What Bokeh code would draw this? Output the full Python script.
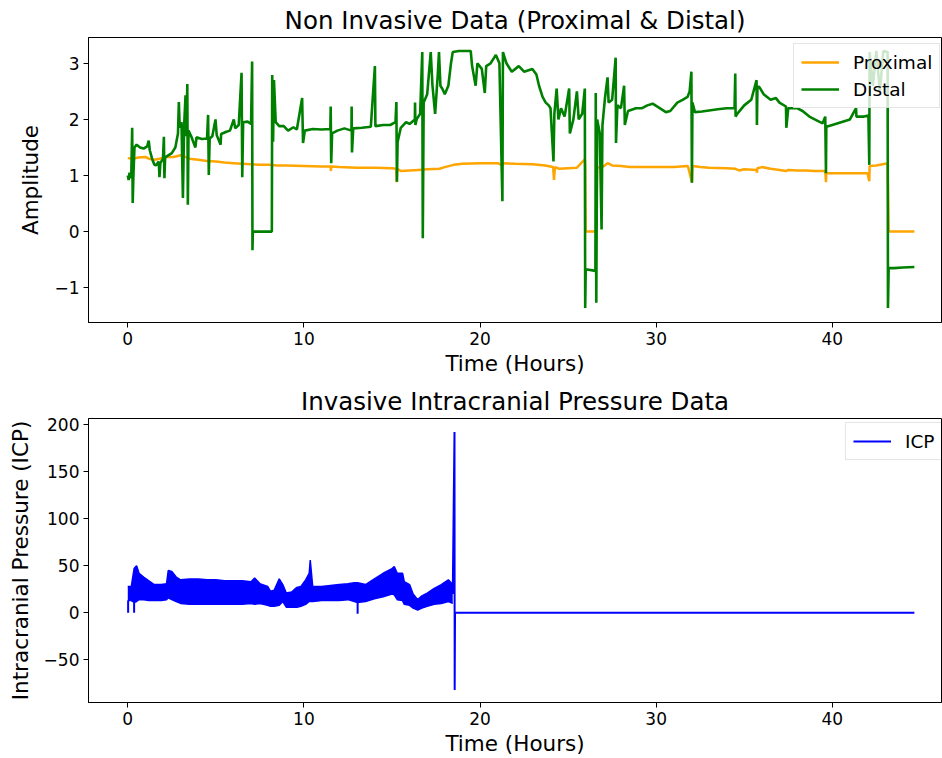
from bokeh.plotting import figure
from bokeh.layouts import column
from bokeh.models import Range1d, FixedTicker, Legend, LegendItem
from bokeh.embed import file_html
from bokeh.resources import INLINE

# ---------------- data ----------------
proximal_t = [0.0, 0.3, 0.6, 1.0, 1.2, 1.5, 1.8, 2.2, 2.6, 3.0, 3.2, 3.5, 4.0, 4.5, 5.0, 5.5,
              6.0, 6.5, 7.0, 7.5, 8.0, 8.5, 9.0, 10.0, 11.0, 11.52, 11.53, 11.55, 12.0, 13.0,
              14.0, 15.0, 15.25, 15.27, 15.3, 15.5, 16.0, 16.5, 17.0, 17.7, 18.0, 18.5, 19.0,
              20.0, 21.0, 21.27, 21.3, 22.0, 23.0, 23.7, 24.15, 24.2, 24.25, 24.5, 25.0, 25.5,
              25.95, 25.97, 26.0, 26.6, 26.65, 27.0, 27.24, 27.5, 28.0, 28.5, 29.0, 30.0, 31.0,
              31.8, 32.03, 32.06, 32.5, 33.0, 34.0, 34.5, 34.7, 35.0, 35.7, 35.72, 35.75, 36.0,
              36.5, 37.0, 37.37, 37.5, 38.0, 38.5, 39.0, 39.6, 39.64, 39.66, 40.0, 41.0, 41.5,
              42.0, 42.1, 42.12, 42.5, 43.0, 43.14, 43.2, 44.66]
proximal_y = [1.31, 1.30, 1.32, 1.33, 1.30, 1.28, 1.30, 1.33, 1.33, 1.36, 1.34, 1.30, 1.28, 1.26,
              1.25, 1.23, 1.22, 1.21, 1.20, 1.19, 1.19, 1.18, 1.18, 1.17, 1.16, 1.16, 1.08, 1.16,
              1.15, 1.14, 1.14, 1.13, 1.12, 0.88, 1.12, 1.08, 1.09, 1.10, 1.11, 1.12, 1.15, 1.19,
              1.21, 1.22, 1.22, 1.18, 1.22, 1.21, 1.20, 1.18, 1.15, 0.92, 1.15, 1.12, 1.13, 1.14,
              1.29, 1.14, 0.0, 0.0, 1.14, 1.16, 1.22, 1.18, 1.17, 1.15, 1.15, 1.15, 1.15, 1.17,
              0.88, 1.17, 1.15, 1.14, 1.13, 1.12, 1.09, 1.11, 1.10, 1.05, 1.13, 1.15, 1.12, 1.10,
              1.08, 1.10, 1.09, 1.09, 1.08, 1.08, 0.88, 1.04, 1.04, 1.04, 1.04, 1.04, 0.90, 1.17,
              1.18, 1.21, 1.21, 0.0, 0.0]

distal_t = [0.0, 0.05, 0.1, 0.15, 0.2, 0.25, 0.28, 0.32, 0.38, 0.5, 0.7, 0.9, 1.1, 1.19, 1.25,
            1.38, 1.5, 1.6, 1.76, 1.8, 1.85, 2.0, 2.05, 2.08, 2.12, 2.3, 2.5, 2.7, 2.85, 2.9,
            2.95, 3.05, 3.13, 3.2, 3.28, 3.32, 3.38, 3.41, 3.45, 3.6, 3.84, 3.9, 4.2, 4.5, 4.56,
            4.6, 4.65, 4.8, 4.98, 5.05, 5.27, 5.3, 5.6, 5.8, 6.02, 6.1, 6.3, 6.46, 6.5, 6.55,
            6.8, 7.0, 7.06, 7.08, 7.1, 8.18, 8.2, 8.25, 8.3, 8.4, 8.6, 8.86, 9.1, 9.4, 9.6, 9.9,
            9.95, 10.05, 10.5, 11.0, 11.5, 11.52, 11.55, 11.6, 11.9, 12.3, 12.7, 12.71, 12.73,
            12.8, 13.3, 13.8, 14.03, 14.06, 14.5, 14.9, 15.2, 15.25, 15.28, 15.32, 15.5, 15.8,
            16.0, 16.3, 16.31, 16.33, 16.4, 16.6, 16.72, 16.75, 16.8, 17.0, 17.2, 17.3, 17.45,
            17.6, 17.67, 17.75, 17.85, 18.0, 18.2, 18.35, 18.45, 18.8, 19.2, 19.47, 19.55, 19.75,
            19.85, 20.1, 20.27, 20.35, 20.6, 20.9, 21.1, 21.27, 21.3, 21.5, 21.8, 22.2, 22.5,
            22.97, 23.2, 23.35, 23.55, 23.73, 23.9, 24.0, 24.17, 24.22, 24.35, 24.45, 24.6,
            24.8, 25.06, 25.1, 25.3, 25.5, 25.6, 25.8, 25.95, 25.97, 26.0, 26.55, 26.57, 26.6,
            26.65, 26.8, 26.9, 26.95, 27.1, 27.24, 27.3, 27.5, 27.7, 27.72, 27.8, 28.0, 28.18,
            28.22, 28.4, 28.85, 29.2, 29.5, 29.8, 30.2, 30.55, 30.8, 31.2, 31.5, 31.78, 31.9,
            32.0, 32.03, 32.06, 32.2, 32.6, 33.0, 33.5, 34.0, 34.45, 34.49, 34.51, 34.6, 35.0,
            35.4, 35.7, 35.72, 35.75, 35.85, 36.1, 36.5, 36.8, 37.0, 37.37, 37.39, 37.5, 38.0,
            38.31, 38.7, 39.0, 39.45, 39.6, 39.64, 39.66, 40.0, 40.5, 41.0, 41.35, 41.37, 41.8,
            42.05, 42.1, 42.12, 42.3, 42.5, 42.7, 42.9, 43.14, 43.16, 43.2, 43.5, 44.0, 44.66]
distal_y = [1.00, 0.92, 1.05, 0.95, 1.02, 1.85, 0.51, 1.00, 1.50, 1.55, 1.50, 1.48, 1.52, 1.62,
            1.45, 1.30, 1.20, 1.18, 1.25, 0.97, 1.22, 1.30, 1.69, 0.95, 1.32, 1.36, 1.40, 1.50,
            1.75, 2.31, 1.85, 1.95, 0.60, 1.90, 2.43, 1.70, 2.63, 0.48, 1.80, 1.70, 1.50, 1.68,
            1.65, 1.66, 2.08, 1.01, 1.66, 1.70, 2.00, 1.72, 1.55, 1.74, 1.78, 1.80, 2.00, 1.84,
            1.90, 2.83, 0.97, 1.95, 1.96, 1.92, 3.03, -0.33, 0.0, 0.0, 2.79, 1.60, 2.70, 1.95,
            1.88, 1.88, 1.80, 1.86, 1.82, 2.38, 1.58, 1.80, 1.83, 1.82, 1.83, 2.23, 1.22, 1.75,
            1.80, 1.84, 1.80, 2.23, 1.41, 1.84, 1.85, 1.87, 2.95, 1.88, 1.90, 1.90, 1.95, 2.31,
            0.89, 1.60, 1.85, 1.95, 1.92, 2.00, 2.30, 1.90, 2.00, 2.10, 3.20, -0.12, 2.30, 2.45,
            3.20, 2.60, 2.10, 2.80, 3.20, 2.60, 2.55, 2.45, 2.60, 3.00, 3.20, 3.22, 3.22, 3.22,
            2.95, 2.60, 3.00, 2.90, 2.47, 2.95, 3.00, 3.15, 3.00, 0.54, 3.20, 3.00, 2.85, 2.95,
            2.85, 2.90, 2.80, 2.60, 2.40, 2.30, 2.25, 2.20, 1.25, 2.10, 2.55, 2.00, 2.20, 2.05,
            2.55, 1.75, 2.00, 2.50, 2.00, 2.10, 2.55, -1.36, -0.67, -0.70, 2.47, -1.27, 2.00,
            1.75, 0.04, 1.90, 2.40, 2.75, 2.30, 2.35, 3.10, 1.58, 2.25, 2.20, 2.60, 1.90, 2.15,
            2.20, 2.20, 2.25, 2.28, 2.20, 2.13, 2.15, 2.30, 2.35, 2.40, 2.50, 2.85, 0.87, 2.30,
            2.13, 2.14, 2.16, 2.18, 2.20, 2.20, 2.82, 2.05, 2.10, 2.25, 2.35, 2.70, 1.90, 2.58,
            2.58, 2.45, 2.35, 2.38, 2.30, 2.23, 1.85, 2.20, 2.20, 2.15, 2.05, 2.00, 1.93, 2.05,
            1.04, 1.87, 1.90, 1.95, 2.00, 2.20, 2.05, 2.05, 2.07, 1.19, 3.20, 2.60, 3.22, 2.50,
            3.22, 3.20, -1.36, -0.65, -0.65, -0.64, -0.63]

# ICP band envelope (upper / lower of the fast oscillation)
icp_t = [0.0, 0.2, 0.36, 0.5, 0.64, 0.9, 1.2, 1.5, 1.9, 2.2, 2.3, 2.5, 2.75, 3.0, 3.5, 4.0,
         4.5, 5.0, 5.5, 6.0, 6.5, 7.0, 7.2, 7.5, 7.94, 8.1, 8.31, 8.6, 8.8, 9.0, 9.3, 9.6,
         9.83, 10.1, 10.3, 10.36, 10.5, 11.0, 11.5, 12.0, 12.5, 12.86, 13.05, 13.5, 14.0,
         14.5, 15.0, 15.13, 15.3, 15.6, 15.7, 16.0, 16.2, 16.46, 16.7, 17.0, 17.4, 17.8,
         18.2, 18.45]
icp_hi = [28, 28, 47, 50, 42, 38, 34, 30, 30, 31, 45, 44, 38, 35, 36, 36, 35, 35, 34, 34, 34,
          33, 37, 31, 28, 23, 24, 36, 30, 21, 22, 27, 28, 35, 42, 56, 28, 28, 29, 30, 31, 32,
          32, 30, 36, 42, 47, 49, 42, 42, 33, 30, 20, 14, 18, 21, 26, 30, 35, 30]
icp_lo = [13, 13, 11, 12, 14, 14, 13, 13, 13, 14, 16, 14, 12, 10, 9, 9, 9, 9, 9, 9, 9, 10, 9,
          10, 8, 7, 7, 8, 12, 6, 6, 6, 7, 9, 12, 12, 12, 13, 13, 13, 14, 12, 11, 12, 15, 17,
          20, 19, 14, 13, 9, 8, 5, 3, 5, 7, 9, 10, 12, 10]
# narrow downward spikes inside the band
icp_dip_t = [0.02, 0.36, 13.05]
icp_dip_top = [13, 11, 11]
icp_dip_bottom = [0, 0, -1]
# tail: big artefact then flat zero
icp_tail_t = [18.45, 18.55, 18.56, 18.58, 44.66]
icp_tail_v = [20, 192, -82, 0, 0]

top_yticks = [-1, 0, 1, 2, 3]
bottom_yticks = [-50, 0, 50, 100, 150, 200]
xticks = [0, 10, 20, 30, 40]

FONT = "DejaVu Sans"
W = 942


def style(p, yticks, xlabel, ylabel):
    p.outline_line_color = "black"
    p.outline_line_width = 1
    p.xgrid.visible = False
    p.ygrid.visible = False
    p.background_fill_color = "white"
    p.border_fill_color = "white"
    p.title.text_font = FONT
    p.title.text_font_size = "24.5px"
    p.title.text_font_style = "normal"
    p.title.text_color = "black"
    p.title.align = "center"
    p.title.standoff = 5
    p.xaxis.ticker = FixedTicker(ticks=xticks)
    p.yaxis.ticker = FixedTicker(ticks=yticks)
    p.yaxis.major_label_overrides = {v: ("\u2212" + str(-v)) for v in yticks if v < 0}
    p.xaxis.axis_label = xlabel
    p.yaxis.axis_label = ylabel
    for ax in (p.xaxis[0], p.yaxis[0]):
        ax.major_label_text_font = FONT
        ax.major_label_text_font_size = "17px"
        ax.major_label_text_color = "black"
        ax.axis_label_text_font = FONT
        ax.axis_label_text_font_size = "21.5px"
        ax.axis_label_text_font_style = "normal"
        ax.axis_label_text_color = "black"
        ax.minor_tick_line_color = None
        ax.major_tick_in = 0
        ax.major_tick_out = 5
        ax.major_tick_line_color = "black"
        ax.axis_line_color = "black"
        ax.major_label_standoff = 4
    p.xaxis.axis_label_standoff = 3
    p.yaxis.axis_label_standoff = 8


def make_legend(items, loc):
    lg = Legend(items=items, location=loc)
    lg.label_text_font = FONT
    lg.label_text_font_size = "18.5px"
    lg.label_text_color = "black"
    lg.glyph_width = 38
    lg.glyph_height = 22
    lg.label_standoff = 14
    lg.padding = 7
    lg.spacing = 5
    lg.margin = 0
    lg.border_line_color = "#cccccc"
    lg.border_line_width = 1
    lg.background_fill_alpha = 0.8
    return lg


# ---------------- top figure ----------------
p1 = figure(width=W, height=380, output_backend="svg", toolbar_location=None,
            title="Non Invasive Data (Proximal & Distal)",
            x_range=Range1d(-2.23, 46.2), y_range=Range1d(-1.62, 3.46),
            min_border_left=88, min_border_right=1, min_border_top=37, min_border_bottom=58)
style(p1, top_yticks, "Time (Hours)", "Amplitude")
r_prox = p1.line(proximal_t, proximal_y, line_color="orange", line_width=2.5)
r_dist = p1.line(distal_t, distal_y, line_color="green", line_width=2.6)
p1.add_layout(make_legend([LegendItem(label="Proximal", renderers=[r_prox]),
                           LegendItem(label="Distal", renderers=[r_dist])], (705, 214)))

# ---------------- bottom figure ----------------
p2 = figure(width=W, height=378, output_backend="svg", toolbar_location=None,
            title="Invasive Intracranial Pressure Data",
            x_range=Range1d(-2.23, 46.2), y_range=Range1d(-95.2, 206.3),
            min_border_left=88, min_border_right=1, min_border_top=38, min_border_bottom=55)
style(p2, bottom_yticks, "Time (Hours)", "Intracranial Pressure (ICP)")
p2.varea(x=icp_t, y1=icp_lo, y2=icp_hi, fill_color="blue")
p2.line(icp_t, icp_hi, line_color="blue", line_width=1.5)
p2.line(icp_t, icp_lo, line_color="blue", line_width=1.5)
p2.segment(x0=icp_dip_t, y0=icp_dip_top, x1=icp_dip_t, y1=icp_dip_bottom,
           line_color="blue", line_width=2)
r_icp = p2.line(icp_tail_t, icp_tail_v, line_color="blue", line_width=2)
p2.add_layout(make_legend([LegendItem(label="ICP", renderers=[r_icp])], (757, 242)))

layout = column(p1, p2)
open("out.html", "w").write(file_html(layout, INLINE))
